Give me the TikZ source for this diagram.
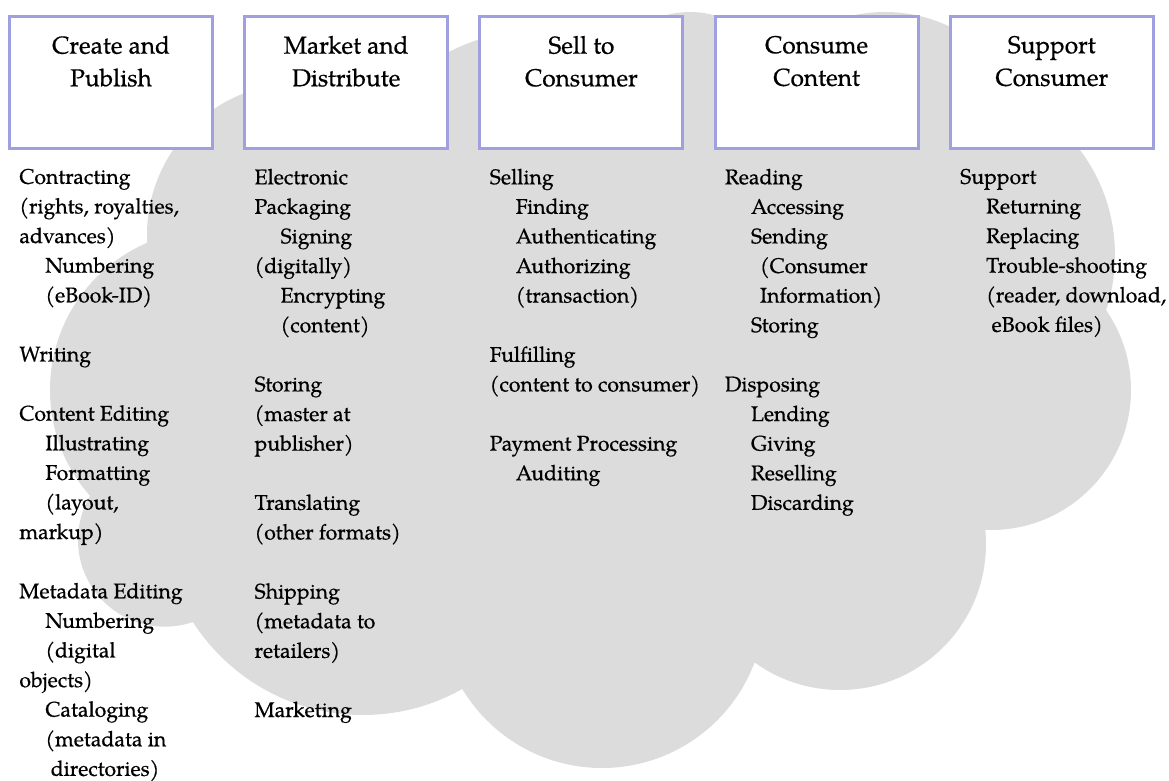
\documentclass[tikz,border=0pt]{standalone}
\usepackage{fontspec}
\setmainfont{TeX Gyre Pagella}[FakeBold=0.6]
\usetikzlibrary{positioning}

\definecolor{boxline}{RGB}{160,160,224}
\definecolor{cloudgray}{RGB}{220,220,220}
\newcommand{\indt}{\hspace*{13pt}}

\begin{document}
\begin{tikzpicture}[x=0.5pt,y=-0.5pt,
  stage/.style={draw=boxline, line width=1.5pt, fill=white,
    minimum width=101.5pt, minimum height=66pt, inner sep=0pt},
  title/.style={font=\fontsize{12.2pt}{16.3pt}\selectfont, align=center, inner sep=0pt},
  items/.style={font=\fontsize{10.6pt}{14.8pt}\selectfont, align=left, inner sep=0pt},
  node distance=14.6pt]
\useasboundingbox (0,0) rectangle (1169,781);

% Cloud behind everything
\fill[cloudgray] (299,235) circle (152)
  (540,230) circle (200)
  (690,102) circle (90)
  (885,162) circle (150)
  (940,255) circle (175)
  (991,390) circle (140)
  (840,544) circle (146)
  (602,605) circle (163)
  (363,513) circle (202)
  (164.7,540) circle (86.7)
  (210,390) circle (160);
\fill[cloudgray] (230,150) -- (480,100) -- (700,80) -- (900,100) -- (1050,200)
  -- (1080,450) -- (960,520) -- (755,640) -- (462,670) -- (200,600)
  -- (120,500) -- (100,350) -- (170,250) -- cycle;

% Stage boxes
\node[stage] (create) at (111,82.5) {};
\node[stage, right=of create] (market) {};
\node[stage, right=of market] (sell) {};
\node[stage, right=of sell] (consume) {};
\node[stage, right=of consume] (support) {};

% Titles
\node[title, below=10.25pt of create.north] (createT) {Create and\\Publish};
\node[title, below=10.25pt of market.north] (marketT) {Market and\\Distribute};
\node[title, below=10.25pt of sell.north] (sellT) {Sell to\\Consumer};
\node[title, below=10.25pt of consume.north] (consumeT) {Consume\\Content};
\node[title, below=10.25pt of support.north] (supportT) {Support\\Consumer};

% Activities
\node[items, below right=9.2pt and 5.5pt of create.south west] (createL) {Contracting\\
(rights, royalties,\\
advances)\\
\indt Numbering\\
\indt (eBook-ID)\\[14.8pt]
Writing\\[14.8pt]
Content Editing\\
\indt Illustrating\\
\indt Formatting\\
\indt (layout,\\
markup)\\[14.8pt]
Metadata Editing\\
\indt Numbering\\
\indt (digital\\
objects)\\
\indt Cataloging\\
\indt (metadata in\\
\indt\hspace*{2.7pt}directories)};

\node[items, below right=9.2pt and 5.5pt of market.south west] (marketL) {Electronic\\
Packaging\\
\indt Signing\\
(digitally)\\
\indt Encrypting\\
\indt (content)\\[14.8pt]
Storing\\
(master at\\
publisher)\\[14.8pt]
Translating\\
(other formats)\\[14.8pt]
Shipping\\
(metadata to\\
retailers)\\[14.8pt]
Marketing};

\node[items, below right=9.2pt and 5.5pt of sell.south west] (sellL) {Selling\\
\indt Finding\\
\indt Authenticating\\
\indt Authorizing\\
\indt (transaction)\\[14.8pt]
Fulfilling\\
(content to consumer)\\[14.8pt]
Payment Processing\\
\indt Auditing};

\node[items, below right=9.2pt and 5.5pt of consume.south west] (consumeL) {Reading\\
\indt Accessing\\
\indt Sending\\
\indt\hspace*{4.5pt}(Consumer\\
\indt\hspace*{4.5pt}Information)\\
\indt Storing\\[14.8pt]
Disposing\\
\indt Lending\\
\indt Giving\\
\indt Reselling\\
\indt Discarding};

\node[items, below right=9.2pt and 5.5pt of support.south west] (supportL) {Support\\
\indt Returning\\
\indt Replacing\\
\indt Trouble-shooting\\
\indt (reader, download,\\
\indt\hspace*{2.7pt}eBook files)};
\end{tikzpicture}
\end{document}
